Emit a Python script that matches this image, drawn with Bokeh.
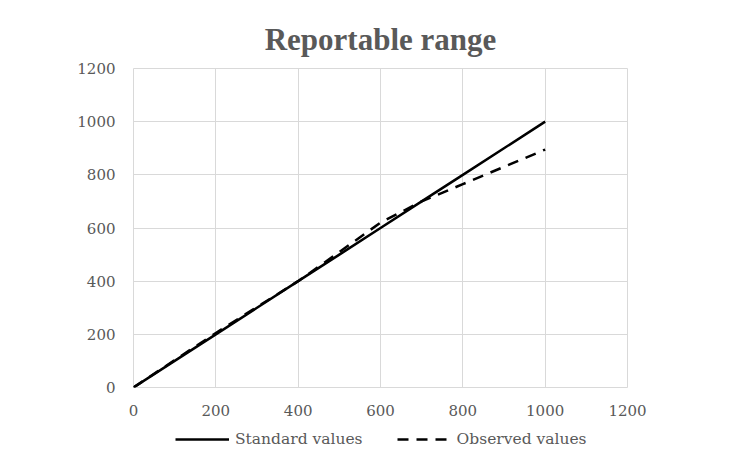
from bokeh.plotting import figure
from bokeh.layouts import column
from bokeh.models import Legend, LegendItem, Range1d, FixedTicker
from bokeh.embed import file_html
from bokeh.resources import INLINE

x_values = [0, 100, 200, 300, 400, 500, 600, 700, 800, 900, 1000]
standard_values = [0, 100, 200, 300, 400, 500, 600, 700, 800, 900, 1000]
observed_values = [0, 103, 205, 303, 400, 510, 620, 700, 765, 830, 895]
ticks = [0, 200, 400, 600, 800, 1000, 1200]
series_names = ["Standard values", "Observed values"]

TEXT = "#595959"
GRID = "#d9d9d9"
SERIF = "DejaVu Serif"
DASH = "11 8"

p = figure(width=738, height=425, output_backend="svg", toolbar_location=None,
           x_range=Range1d(0, 1200), y_range=Range1d(0, 1200),
           min_border_left=133, min_border_right=111, min_border_top=68, min_border_bottom=38)

p.title.text = "Reportable range"
p.title.align = "center"
p.title.text_font = "Liberation Serif"
p.title.text_font_size = "31px"
p.title.text_font_style = "bold"
p.title.text_color = TEXT
p.title.standoff = 23

p.outline_line_color = GRID
for ax in (p.xaxis, p.yaxis):
    ax.ticker = FixedTicker(ticks=ticks)
    ax.axis_line_color = None
    ax.major_tick_line_color = None
    ax.minor_tick_line_color = None
    ax.major_label_text_font = SERIF
    ax.major_label_text_font_size = "15px"
    ax.major_label_text_color = TEXT
p.yaxis.major_label_standoff = 12
p.xaxis.major_label_standoff = 11

p.xgrid.ticker = FixedTicker(ticks=ticks)
p.ygrid.ticker = FixedTicker(ticks=ticks)
p.grid.grid_line_color = GRID
p.grid.grid_line_width = 1

p.line(x_values, standard_values, line_color="black", line_width=2.5)
p.line(x_values, observed_values, line_color="black", line_width=2.5, line_dash=DASH)

# legend strip below the chart (its frame is aligned with the chart's frame);
# the series are drawn here outside the visible range, only to feed the legend
q = figure(width=738, height=31, output_backend="svg", toolbar_location=None,
           x_axis_type=None, y_axis_type=None, min_border=0,
           x_range=Range1d(-20, -10), y_range=Range1d(-20, -10))
q.outline_line_color = None
q.grid.visible = False
l1 = q.line(x_values, standard_values, line_color="black", line_width=2.5)
l2 = q.line(x_values, observed_values, line_color="black", line_width=2.5, line_dash=DASH)
legend = Legend(items=[LegendItem(label=series_names[0], renderers=[l1]),
                       LegendItem(label=series_names[1], renderers=[l2])],
                orientation="horizontal", location=(42, 7),
                label_text_font=SERIF, label_text_font_size="15.5px", label_text_color=TEXT,
                glyph_width=54, label_standoff=6, spacing=34,
                border_line_color=None, background_fill_alpha=0,
                padding=0, margin=0)
q.add_layout(legend, "center")

layout = column(p, q, spacing=0)
open("out.html", "w").write(file_html(layout, INLINE))
